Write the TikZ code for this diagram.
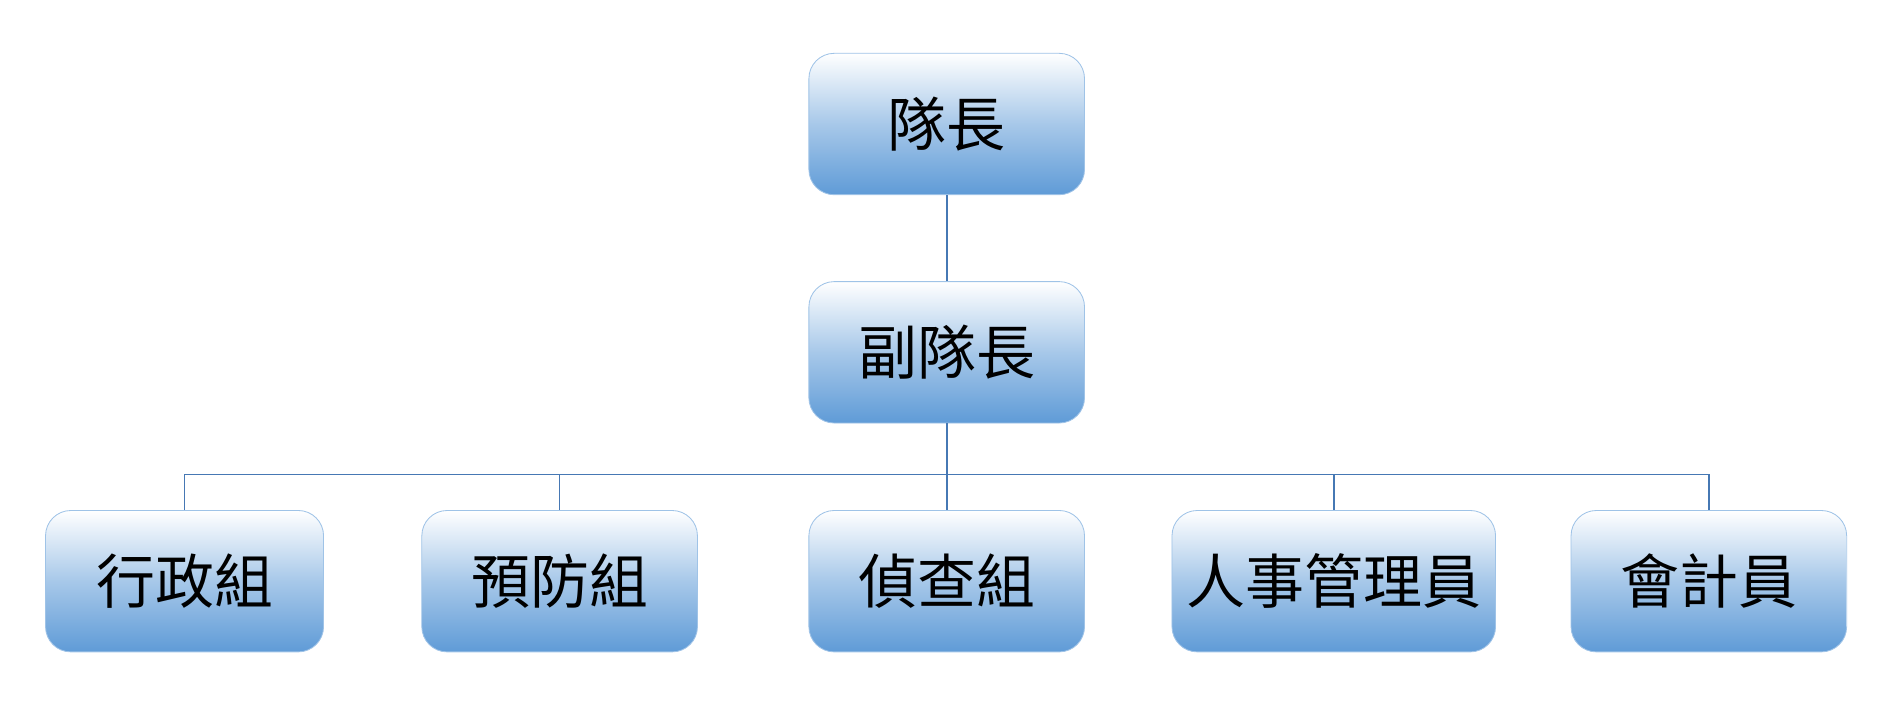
\documentclass[tikz,border=0pt]{standalone}
\usepackage{fontspec}
\newfontfamily\cjk{Noto Sans CJK TC}
\definecolor{boxblue}{RGB}{95,155,215}
\definecolor{linkblue}{RGB}{70,120,180}
\tikzset{
  unit/.style={rounded corners=12pt, minimum height=2.36cm, minimum width=4.6cm,
    top color=white, bottom color=boxblue, middle color=boxblue!55,
    draw=boxblue!60, font=\cjk\fontsize{28}{32}\selectfont},
  link/.style={draw=linkblue, line width=0.8pt}
}
\begin{document}
\begin{tikzpicture}
  \useasboundingbox (0,0) rectangle (31.36,11.86);

  \node[unit] (chief) at (15.8,9.79) {隊長};
  \node[unit] (deputy) at (15.8,5.98) {副隊長};

  \node[unit, minimum width=4.64cm] (admin) at (3.08,2.16) {行政組};
  \node[unit] (prevent) at (9.34,2.16) {預防組};
  \node[unit] (detect) at (15.8,2.16) {偵查組};
  \node[unit, minimum width=5.4cm] (hr) at (22.26,2.16) {人事管理員};
  \node[unit] (account) at (28.52,2.16) {會計員};

  \coordinate (bus) at (15.8,3.94);
  \draw[link] (chief) -- (deputy);
  \draw[link] (deputy) -- (detect);
  \foreach \n in {admin,prevent,hr,account}
    \draw[link] (bus) -| (\n.north);
\end{tikzpicture}
\end{document}
